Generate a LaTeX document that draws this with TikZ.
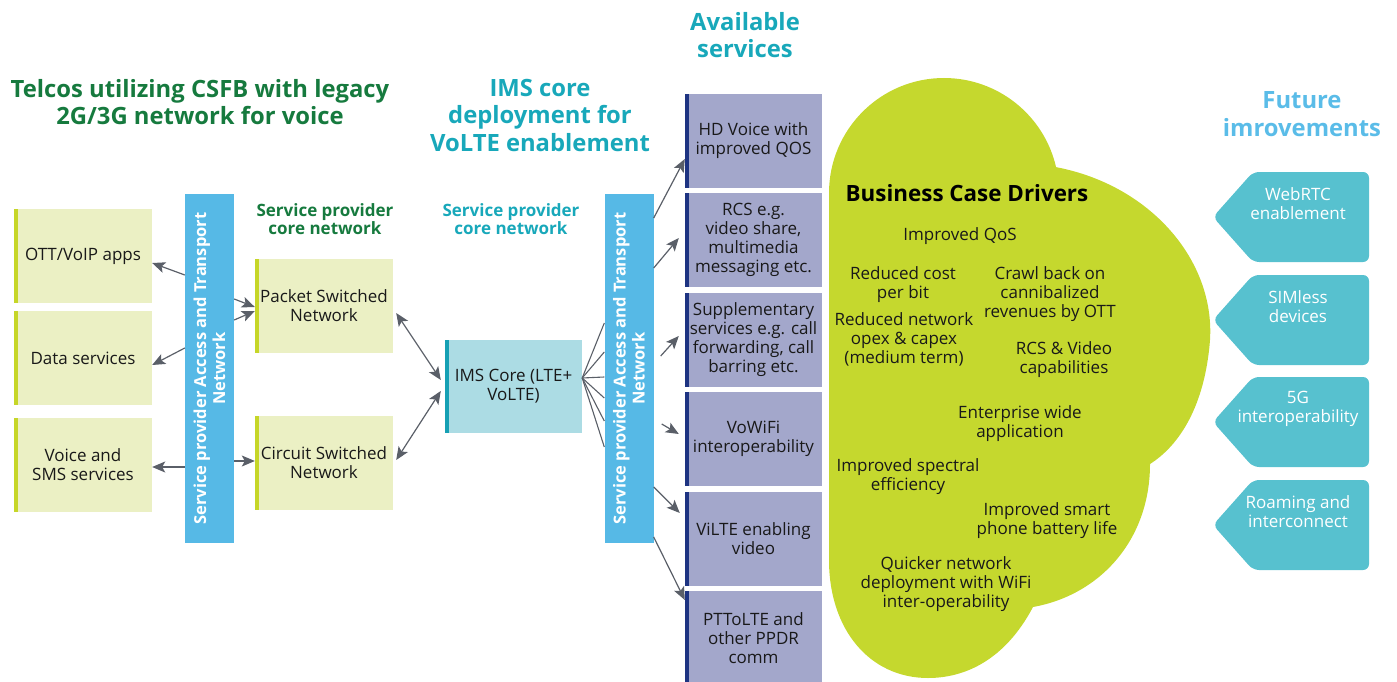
\documentclass[tikz,border=0pt]{standalone}
\usepackage{fontspec}
\setmainfont{Open Sans}
\usetikzlibrary{arrows.meta,calc}

\definecolor{csfbgreen}{RGB}{22,122,62}
\definecolor{imsteal}{RGB}{24,168,186}
\definecolor{futblue}{RGB}{90,188,232}
\definecolor{lbfill}{RGB}{235,240,196}
\definecolor{lbbar}{RGB}{198,214,40}
\definecolor{transport}{RGB}{86,185,230}
\definecolor{imsfill}{RGB}{172,220,228}
\definecolor{imsbar}{RGB}{22,160,180}
\definecolor{svcfill}{RGB}{163,167,203}
\definecolor{svcbar}{RGB}{30,52,130}
\definecolor{cloudgreen}{RGB}{197,216,46}
\definecolor{tagfill}{RGB}{87,193,207}
\definecolor{arrowgray}{RGB}{90,95,104}
\definecolor{ink}{RGB}{25,25,25}

\newcommand{\boxfont}{\fontsize{17}{19}\selectfont}

\begin{document}
\begin{tikzpicture}[x=1pt,y=-1pt,
  txt/.style={align=center, inner sep=0, text=ink, font=\boxfont},
  base/.style={inner sep=0, align=center, text=ink, font=\boxfont},
  leftbox/.style={base, fill=lbfill, minimum width=138, minimum height=94,
    path picture={\fill[lbbar] (path picture bounding box.north west) rectangle ([xshift=3.5pt]path picture bounding box.south west);}},
  imsbox/.style={base, fill=imsfill, minimum width=137, minimum height=93,
    path picture={\fill[imsbar] (path picture bounding box.north west) rectangle ([xshift=3.5pt]path picture bounding box.south west);}},
  svcbox/.style={base, fill=svcfill, minimum width=137, minimum height=94,
    path picture={\fill[svcbar] (path picture bounding box.north west) rectangle ([xshift=3.5pt]path picture bounding box.south west);}},
  transbar/.style={fill=transport, text=white, inner sep=0, align=center,
    minimum width=349, minimum height=49, rotate=90,
    font=\fontsize{16.5}{19}\selectfont\bfseries},
  heading/.style={align=center, inner sep=0, font=\fontsize{23.8}{27.5}\selectfont\bfseries},
  subhead/.style={align=center, inner sep=0, font=\fontsize{17}{18.5}\selectfont\bfseries},
  tip/.tip={Stealth[length=13pt,width=11pt,inset=3pt]},
  arr/.style={draw=arrowgray, line width=1.2pt, -tip},
  darr/.style={draw=arrowgray, line width=1.2pt, tip-tip},
  fan/.style={draw=arrowgray, line width=1.1pt},
  tagshape/.style={fill=tagfill, rounded corners=6pt},
  tagtext/.style={align=center, inner sep=0, text=white, font=\boxfont}
]
\useasboundingbox (0,0) rectangle (1397,682);

% ---- headings ----
\node[heading, text=csfbgreen] (hcsfb) at (200,102) {Telcos utilizing CSFB with legacy\\2G/3G network for voice};
\node[heading, text=imsteal] (hims) at (540,115) {IMS core\\deployment for\\VoLTE enablement};
\node[heading, text=imsteal] (havail) at (745,35) {Available\\services};
\node[heading, text=futblue] (hfut) at (1302,114) {Future\\imrovements};
\node[subhead, text=csfbgreen] (core1) at (325,219) {Service provider\\core network};
\node[subhead, text=imsteal] (core2) at (511,219) {Service provider\\core network};

% ---- legacy side ----
\node[leftbox] (ott) at (83,256) {OTT/VoIP apps};
\node[leftbox] (data) at (83,358) {Data services};
\node[leftbox] (voice) at (83,464.5) {Voice and\\SMS services};
\node[transbar] (tbL) at (209.5,368.5) {Service provider Access and Transport\\Network};
\node[leftbox] (packet) at (324,306) {Packet Switched\\Network};
\node[leftbox] (circuit) at (324,463) {Circuit Switched\\Network};

% ---- IMS core ----
\node[imsbox] (ims) at (513.5,386.5) {IMS Core (LTE+\\VoLTE)};
\node[transbar] (tbR) at (629,368.5) {Service provider Access and Transport\\Network};

% ---- services ----
\node[svcbox] (hd) at (753.5,141) {HD Voice with\\improved QOS};
\node[svcbox] (rcs) at (753.5,240) {RCS e.g.\\video share,\\multimedia\\messaging etc.};
\node[svcbox] (supp) at (753.5,340) {Supplementary\\services e.g. call\\forwarding, call\\barring etc.};
\node[svcbox] (wifi) at (753.5,439) {VoWiFi\\interoperability};
\node[svcbox] (vilte) at (753.5,539) {ViLTE enabling\\video};
\node[svcbox] (ptt) at (753.5,638) {PTToLTE and\\other PPDR\\comm};

% ---- connectors, legacy side (the bars are rotated: north = left edge, south = right edge) ----
\draw[arr] (tbL.north |- 0,275) -- (ott.east |- 0,263);
\draw[arr] (tbL.north |- 0,348) -- (data.east |- 0,365);
\draw[arr] (tbL.north |- 0,467) -- (voice.east |- 0,467);
\draw[arr] (tbL.south |- 0,299) -- (packet.west |- 0,307);
\draw[arr] (tbL.south |- 0,320) -- (packet.west |- 0,311);
\draw[arr] (tbL.south |- 0,461) -- (circuit.west |- 0,461);
\draw[darr] ([xshift=3pt]packet.east |- 0,313) -- ([xshift=-4pt]ims.west |- 0,380);
\draw[darr] ([xshift=3pt]circuit.east |- 0,460) -- ([xshift=-4pt]ims.west |- 0,391);

% ---- fan from IMS core into the transport network ----
\foreach \yy in {323,352,377,398,421,447}
  \draw[fan] (ims.east |- 0,378) -- (tbR.north |- 0,\yy);

% ---- connectors to services ----
\draw[arr] (tbR.south |- 0,218) -- (hd.west |- 0,159);
\draw[arr] (tbR.south |- 0,268) -- ([xshift=-6pt]rcs.west |- 0,238);
\draw[arr] ([xshift=7pt]tbR.south |- 0,356) -- ([xshift=-6pt]supp.west |- 0,336);
\draw[arr] ([xshift=8pt]tbR.south |- 0,424) -- ([xshift=-6pt]wifi.west |- 0,434);
\draw[arr] (tbR.south |- 0,487) -- ([xshift=-5pt]vilte.west |- 0,513);
\draw[arr] (tbR.south |- 0,537) -- (ptt.west |- 0,600);

% ---- business case cloud ----
\fill[cloudgreen] (829,560) -- (829,193)
  arc[start angle=180, end angle=347, radius=115]
  .. controls (1150,185) and (1215,260) .. (1210,340)
  .. controls (1205,405) and (1180,445) .. (1150,464)
  .. controls (1150,540) and (1100,595) .. (1033,607)
  .. controls (1005,660) and (965,678) .. (928,678)
  .. controls (870,678) and (829,630) .. (829,560) -- cycle;

\node[inner sep=0, text=black, font=\fontsize{22.4}{26}\selectfont\bfseries] (bcd) at (967,193) {Business Case Drivers};
\node[txt] (d1) at (960,236) {Improved QoS};
\node[txt] (d2) at (903,284.5) {Reduced cost\\per bit};
\node[txt] (d3) at (1050,294) {Crawl back on\\cannibalized\\revenues by OTT};
\node[txt] (d4) at (904,339) {Reduced network\\opex \& capex\\(medium term)};
\node[txt] (d5) at (1064,360) {RCS \& Video\\capabilities};
\node[txt] (d6) at (1020,423.5) {Enterprise wide\\application};
\node[txt] (d7) at (908,476.5) {Improved spectral\\efficiency};
\node[txt] (d8) at (1047,520.5) {Improved smart\\phone battery life};
\node[txt] (d9) at (946,584.5) {Quicker network\\deployment with WiFi\\inter-operability};

% ---- future improvement tags ----
\foreach \yt/\lab/\nm in {172/{WebRTC\\enablement}/f1, 275/{SIMless\\devices}/f2, 377/{5G\\interoperability}/f3, 480/{Roaming and\\interconnect}/f4}{
  \fill[tagshape] (1253,\yt) -- (1369,\yt) -- (1369,\yt+90) -- (1253,\yt+90) -- (1213,\yt+45) -- cycle;
  \node[tagtext] (\nm) at (1298,\yt+31.5) {\lab};
}
\end{tikzpicture}
\end{document}
